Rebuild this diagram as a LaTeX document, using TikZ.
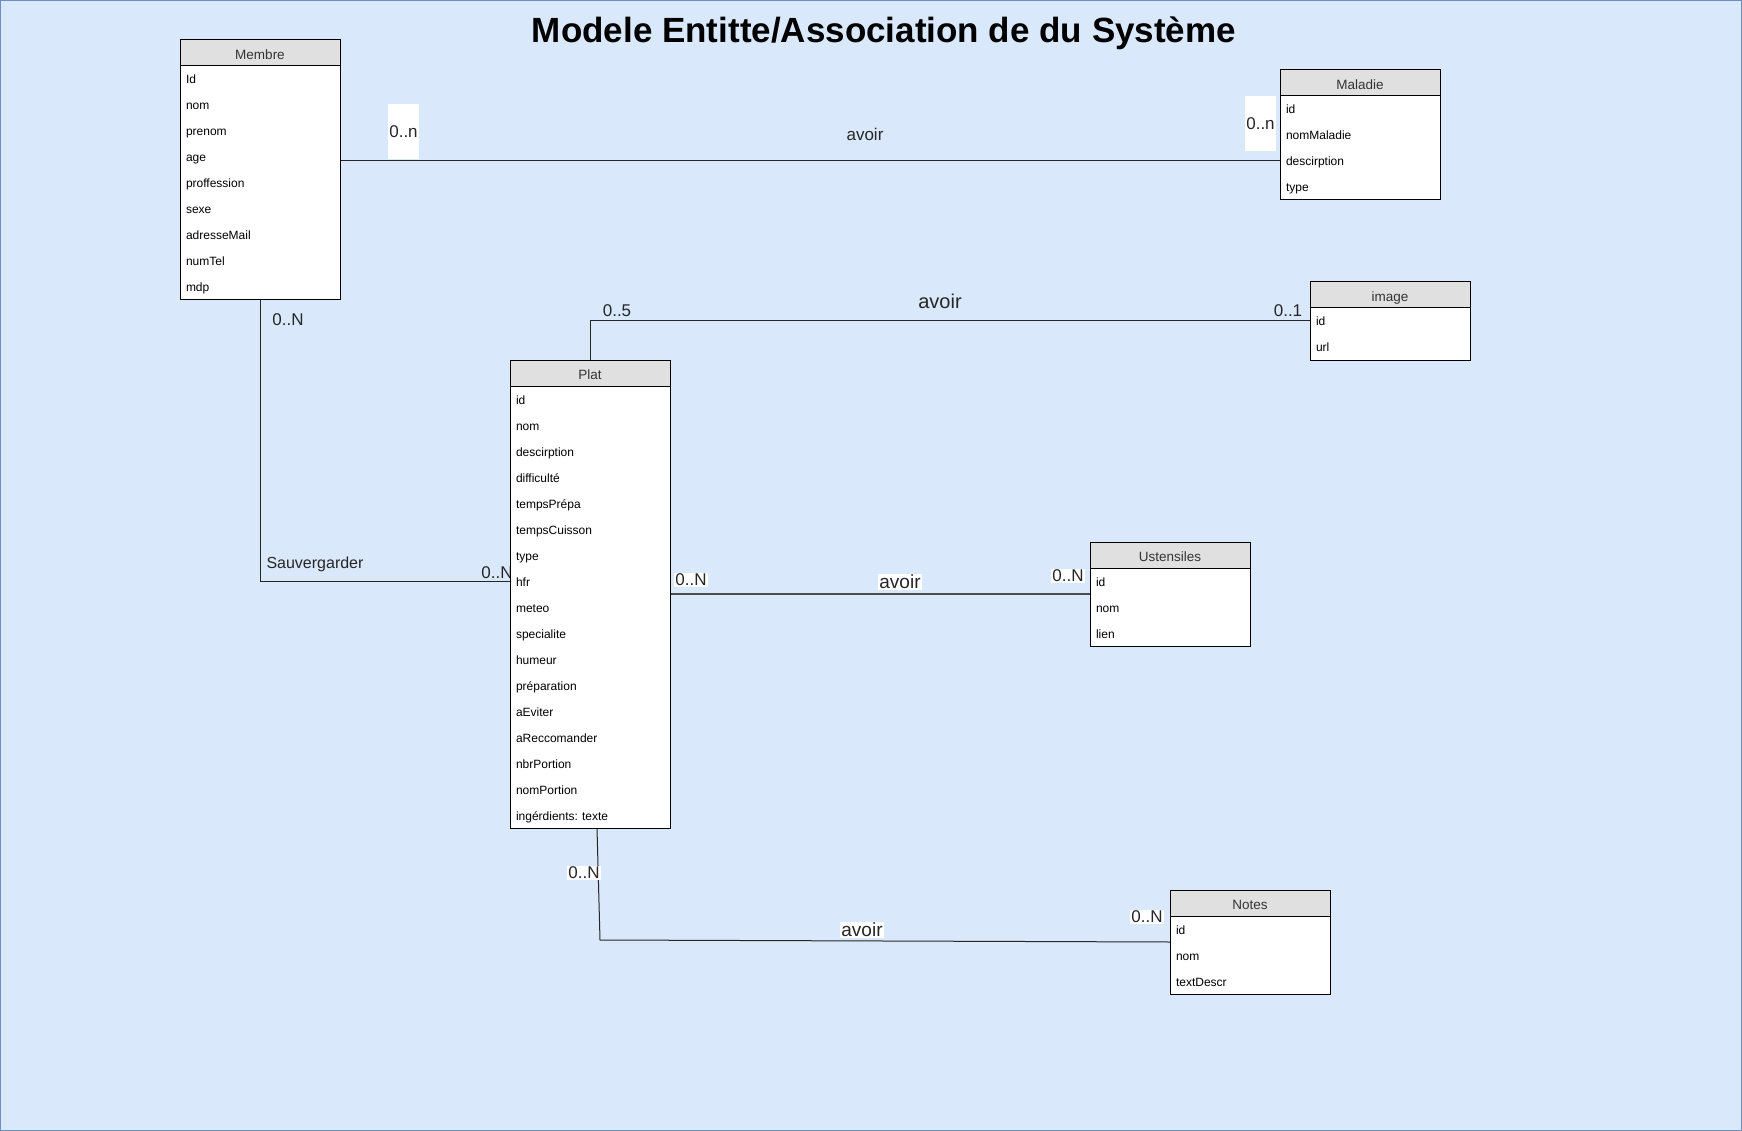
\documentclass[tikz,border=0pt]{standalone}
\usepackage{fontspec}
\setmainfont{Liberation Sans}
\usetikzlibrary{calc}
\definecolor{fond}{HTML}{DAE8FC}
\definecolor{bord}{HTML}{6C8EBF}
\definecolor{entete}{HTML}{E0E0E0}
\pgfdeclarelayer{dessous}
\pgfsetlayers{dessous,main}
\tikzset{
  enttete/.style={draw, line width=1pt, fill=entete, anchor=north west, outer sep=0pt,
    minimum width=160pt, minimum height=26pt, inner sep=0pt, text height=13pt, text depth=0pt,
    font=\fontsize{13.5}{16}\selectfont, text=black!80},
  attribut/.style={anchor=north west, outer sep=0pt, text width=148pt, inner xsep=6pt,
    inner ysep=0pt, minimum height=26pt, align=left, text height=11pt, text depth=1pt,
    font=\fontsize{12}{14}\selectfont},
  lien/.style={line width=1pt, color=black!85},
  lbl/.style={font=\fontsize{17}{20}\selectfont, inner sep=1pt, text=black!85},
  lblb/.style={lbl, fill=white},
  lblcol/.style={lbl, fill=white, minimum width=29pt, minimum height=55pt},
  titre/.style={font=\fontsize{35}{40}\selectfont\bfseries}
}
\def\entite(#1)(#2,#3)#4#5#6{%
  \node[enttete] (#1) at (#2,#3) {#4};
  \draw[line width=1pt, fill=white] (#1.south west) rectangle ++(160,26*#5);
  \foreach \a [count=\i from 0] in {#6}
    \node[attribut] (#1-r\i) at ($(#1.south west)+(0,26*\i)$) {\a};
}

\begin{document}
\begin{tikzpicture}[x=1pt, y=-1pt]
			%%%%% START %%%%%
			\useasboundingbox (0,0) rectangle (1742,1131);
			
			\node[titre] (titre) at (884,33) {Modele Entitte/Association de du Système};
			
			\entite(membre)(180,40){Membre}{9}{Id,nom,prenom,age,proffession,sexe,adresseMail,numTel,mdp}
			\entite(maladie)(1280,70){Maladie}{4}{id,nomMaladie,descirption,type}
			\entite(image)(1310,282){image}{2}{id,url}
			\entite(plat)(510,360){Plat}{17}{id,nom,descirption,difficulté,tempsPrépa,tempsCuisson,type,hfr,meteo,specialite,humeur,préparation,aEviter,aReccomander,nbrPortion,nomPortion,ingérdients:\ texte}
			\entite(ust)(1090,542){Ustensiles}{3}{id,nom,lien}
			\entite(notes)(1170,890){Notes}{3}{id,nom,textDescr}
			
			\begin{pgfonlayer}{dessous}
			\draw[draw=bord, fill=fond, line width=1pt] (0.5,0.5) rectangle (1741.5,1130.5);
			
			% Membre -- Maladie
			\draw[lien] (membre-r3.east |- maladie-r2.west) -- (maladie-r2.west);
			\node[lblcol] (card-mm1) at (403.5,131.5) {0..n};
			\node[lbl] (as-mm) at (865,134) {avoir};
			\node[lblcol] (card-mm2) at (1260.5,124) {0..n};
			
			% Plat -- image
			\draw[lien] (plat.north) |- (image-r0.west);
			\node[lbl] (card-pi1) at (617,311) {0..5};
			\node[lbl, font=\fontsize{20}{24}\selectfont] (as-pi) at (940,301) {avoir};
			\node[lbl] (card-pi2) at (1288,311) {0..1};
			
			% Membre -- Plat
			\draw[lien] (membre-r8.south) |- (plat-r7.west);
			\node[lbl] (card-mp1) at (288,320) {0..N};
			\node[lbl, font=\fontsize{16}{19}\selectfont] (as-mp) at (315,564) {Sauvergarder};
			\node[lbl] (card-mp2) at (497,573) {0..N};
			
			% Plat -- Ustensiles
			\draw[lien, line width=1.6pt, color=black!70] (plat-r7.south east) -- (ust-r0.south west);
			\node[lblb] (card-pu1) at (691,580) {0..N};
			\node[lblb, font=\fontsize{19}{22}\selectfont] (as-pu) at (900,582) {avoir};
			\node[lblb] (card-pu2) at (1068,576) {0..N};
			
			% Plat -- Notes
			\coordinate (coude) at ($(plat-r16.south)+(10,112)$);
			\draw[lien] ($(plat-r16.south)+(7,0)$) -- (coude) -- (notes-r0.south west);
			\node[lblb] (card-pn1) at (584,873) {0..N};
			\node[lblb, font=\fontsize{19}{22}\selectfont] (as-pn) at (862,930) {avoir};
			\node[lblb] (card-pn2) at (1147,917) {0..N};
			\end{pgfonlayer}
			
			%%%%% END %%%%%
\end{tikzpicture}
\end{document}
